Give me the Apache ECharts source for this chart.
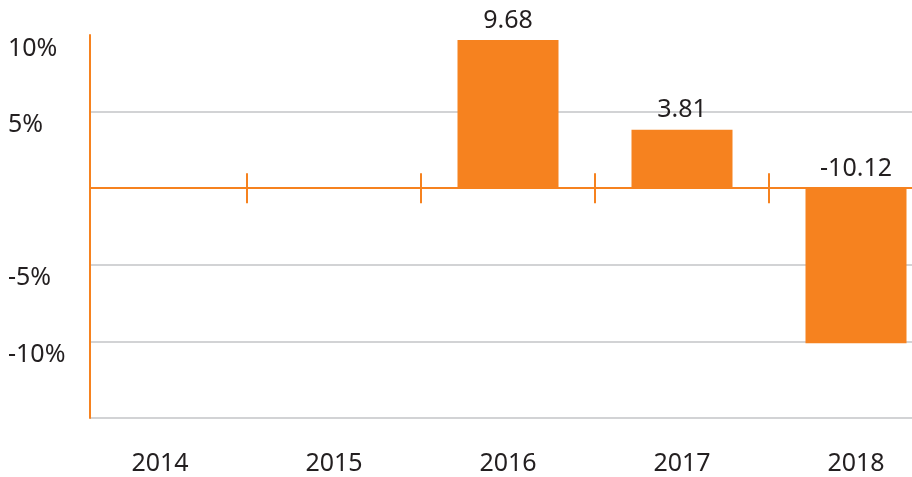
<!DOCTYPE html>
<html>
<head>
<meta charset="utf-8">
<script src="https://cdn.jsdelivr.net/npm/echarts@6/dist/echarts.min.js"></script>
<style>
  html, body { margin: 0; padding: 0; background: #fff; }
  #chart { width: 912px; height: 477px; }
</style>
</head>
<body>
<div id="chart"></div>
<script>
const years = ['2014', '2015', '2016', '2017', '2018']
const changes = ['-', '-', 9.68, 3.81, -10.12]
const yTicks = [-15, -10, -5, 0, 5, 10]
const yHidden = [0, -15] // ticks drawn without a label

const orange = '#f6821f'
const grey = '#d2d3d5'
const ink = '#231f20'
const font = 'Noto Sans'

const yMin = yTicks[0]
const yMax = yTicks[yTicks.length - 1]
const yStep = yTicks[1] - yTicks[0]

// hidden value axis shared by the bar grids
const hiddenY = (gridIndex) => ({
  gridIndex,
  type: 'value',
  min: yMin,
  max: yMax,
  interval: yStep,
  axisLine: { show: false },
  axisTick: { show: false },
  axisLabel: { show: false },
  splitLine: { show: false }
})

// category axis on the zero line that only draws band ticks
const tickAxis = (gridIndex, position) => ({
  gridIndex,
  type: 'category',
  data: years,
  position,
  axisLine: { show: true, onZero: true, lineStyle: { color: 'rgba(0,0,0,0)', width: 0 } },
  axisTick: { show: true, length: 15, lineStyle: { color: orange, width: 2 }, interval: (i) => i > 0 },
  axisLabel: { show: false },
  splitLine: { show: false }
})

const barGrid = { left: 73, width: 870, top: 35, bottom: 59, outerBoundsMode: 'none', containLabel: false }

const chart = echarts.init(document.getElementById('chart'))
chart.setOption({
  animation: false,
  textStyle: { fontFamily: font },
  grid: [
    // grid 0 carries the y axis, grid lines and the zero line
    { left: 90, right: 0, top: 35, bottom: 59, outerBoundsMode: 'none', containLabel: false },
    // grid 1 carries the bars; its bands run past the right edge
    barGrid,
    // grid 2 only gives the upward half of the zero-line ticks
    barGrid
  ],
  xAxis: [{
    gridIndex: 0,
    type: 'value',
    min: 0,
    max: 1,
    axisLine: { onZero: true, lineStyle: { color: orange, width: 2 } },
    axisTick: { show: false },
    axisLabel: { show: false },
    splitLine: { show: false }
  },
  tickAxis(1, 'bottom'),
  tickAxis(2, 'top'),
  {
    // year labels at the bottom
    gridIndex: 1,
    type: 'category',
    data: years,
    position: 'bottom',
    axisLine: { show: false, onZero: false },
    axisTick: { show: false },
    axisLabel: { color: ink, fontSize: 25, fontFamily: font, margin: 33 }
  }],
  yAxis: [{
    gridIndex: 0,
    type: 'value',
    min: yMin,
    max: yMax,
    interval: yStep,
    axisLine: { show: true, onZero: false, lineStyle: { color: orange, width: 2 } },
    axisTick: { show: false },
    splitLine: { show: true, showMaxLine: false, lineStyle: { color: grey, width: 2 } },
    axisLabel: {
      color: ink,
      fontSize: 25,
      fontFamily: font,
      align: 'left',
      verticalAlign: 'top',
      margin: 82,
      padding: [1, 0, 0, 0],
      formatter: (v) => yHidden.includes(v) ? '' : v + '%'
    }
  }, hiddenY(1), hiddenY(2)],
  series: [{
    type: 'bar',
    xAxisIndex: 1,
    yAxisIndex: 1,
    data: changes,
    barWidth: 101,
    itemStyle: { color: orange },
    label: {
      show: true,
      position: 'top',
      distance: 7,
      color: ink,
      fontSize: 25,
      fontFamily: font
    }
  }]
})
</script>
</body>
</html>
